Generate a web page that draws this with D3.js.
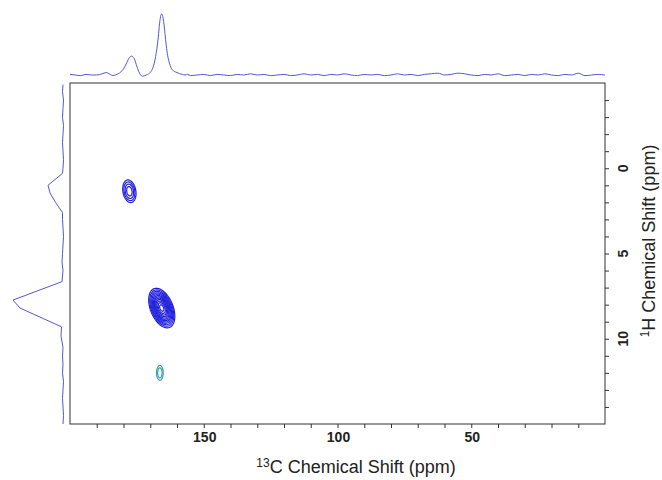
<!DOCTYPE html>
<html>
<head>
<meta charset="utf-8">
<script src="https://cdn.jsdelivr.net/npm/d3@7"></script>
<style>
body { margin: 0; background: #fff; }
text { font-family: Arial, "Liberation Sans", sans-serif; }
</style>
</head>
<body>
<div id="chart"></div>
<script>
// axis ranges and labels
var carbonRange = [200, 0];
var protonRange = [-5, 15];
var carbonLabels = [150, 100, 50];
var protonLabels = [0, 5, 10];

// top projection, 13C (ppm / intensity)
var topPpm = [200,198,196,194,192,190,188,186.5,185,184,183,182,181,180,179,178,177,176,175,174,173,172,171,170,169,168,167,166.5,166,165.7,165.3,165,164.5,164,163.5,163,162.5,162,161,160,159,158,157,156,155,
  152.5,150,147.5,145,142.5,140,137.5,135,132.5,130,127.5,125,122.5,120,117.5,115,112.5,110,107.5,105,102.5,100,97.5,95,92.5,90,87.5,85,82.5,80,77.5,75,72.5,70,67.5,65,62.5,60,57.5,55,52.5,50,47.5,45,42.5,40,37.5,35,32.5,30,27.5,25,22.5,20,17.5,15,12.5,10,7.5,5,2.5,0];
var topInt = [1,0,-1,1,0,0,2,4,1,-1,0,2,5,10,18,27,31,27,14,3,-2,-1,1,4,12,30,62,85,98,100,96,88,68,48,32,22,15,10,6,4,2,1,0,1,-1,
  0,1,-1,1,0,-1,1,0,2,0,1,-1,0,1,-1,0,2,0,1,-1,1,0,2,0,-1,1,0,1,-1,0,2,0,1,-1,1,2,3,0,1,3,2,0,-1,1,0,2,-1,0,1,-1,1,0,2,0,-1,1,0,3,-1,0,1,0];

// side projection, 1H (ppm / intensity)
var sidePpm = [-4.9,-4.5,-4,-3.5,-3,-2.5,-2,-1.5,-1,-0.5,0,0.3,1.0,1.45,2.0,2.6,3.0,3.5,4,4.5,5,5.5,6,6.65,7.73,8.2,9.3,9.85,10.5,11,11.5,12,12.5,13,13.5,14,14.5,15];
var sideInt = [0,1,-1,0,1,-1,0,1,0,-1,0,1,30,26,15,1,1,0,-1,0,1,2,0,2,100,86,3,4,0,1,0,1,-1,0,1,0,-1,0];

// cross peaks
var peakC = [177.8, 165.7, 166.4];
var peakH = [1.35, 8.2, 12.0];
var peakAmp = [0.22, 1, -0.12];
var sigmaC = [1.4, 1.72, 0.94];
var sigmaH = [0.39, 0.5, 0.33];
var peakTilt = [10, 22, 0];
var levels = [0.05, 0.08, 0.12, 0.17, 0.23, 0.3, 0.38, 0.47, 0.57, 0.68, 0.8, 0.92];

var fullWidth = 662, fullHeight = 480;
var margin = {top: 83, right: 57, bottom: 56, left: 70};
var width = fullWidth - margin.left - margin.right;   // 535
var height = fullHeight - margin.top - margin.bottom; // 341

var svg = d3.select("#chart").append("svg")
  .attr("width", fullWidth)
  .attr("height", fullHeight);

var xScale = d3.scaleLinear().domain(carbonRange).range([margin.left, margin.left + width]);
var yScale = d3.scaleLinear().domain(protonRange).range([margin.top, margin.top + height]);
var topY = d3.scaleLinear().domain([0, 100]).range([75, 14]);
var sideX = d3.scaleLinear().domain([0, 100]).range([63, 13]);

// projections
var traceColor = "#5656dc";
var topLine = d3.line()
  .x(function(d, i) { return xScale(topPpm[i]); })
  .y(function(d) { return topY(d); })
  .curve(d3.curveMonotoneX);
svg.append("path").attr("d", topLine(topInt))
  .attr("fill", "none").attr("stroke", traceColor).attr("stroke-width", 1);

var sideLine = d3.line()
  .x(function(d) { return sideX(d); })
  .y(function(d, i) { return yScale(sidePpm[i]); });
svg.append("path").attr("d", sideLine(sideInt))
  .attr("fill", "none").attr("stroke", traceColor).attr("stroke-width", 1);

// contour surface on a pixel grid
var pos = new Float64Array(width * height);
var neg = new Float64Array(width * height);
for (var k = 0; k < peakC.length; k++) {
  var cx = xScale(peakC[k]) - margin.left;
  var cy = yScale(peakH[k]) - margin.top;
  var sx = Math.abs(xScale(peakC[k] + sigmaC[k]) - xScale(peakC[k]));
  var sy = Math.abs(yScale(peakH[k] + sigmaH[k]) - yScale(peakH[k]));
  var th = peakTilt[k] * Math.PI / 180;
  var grid = peakAmp[k] > 0 ? pos : neg;
  var a = Math.abs(peakAmp[k]);
  var x0 = Math.max(0, Math.floor(cx - 6 * sy)), x1 = Math.min(width, Math.ceil(cx + 6 * sy));
  var y0 = Math.max(0, Math.floor(cy - 6 * sy)), y1 = Math.min(height, Math.ceil(cy + 6 * sy));
  for (var j = y0; j < y1; j++) {
    for (var i = x0; i < x1; i++) {
      var dx = i + 0.5 - cx, dy = j + 0.5 - cy;
      var u = dx * Math.cos(th) - dy * Math.sin(th);
      var v = dx * Math.sin(th) + dy * Math.cos(th);
      grid[i + j * width] += a * Math.exp(-(u * u / (2 * sx * sx) + v * v / (2 * sy * sy)));
    }
  }
}

var contours = d3.contours().size([width, height]).thresholds(levels);
var gc = svg.append("g").attr("transform", "translate(" + margin.left + "," + margin.top + ")");
gc.selectAll("path.pos").data(contours(pos)).enter().append("path")
  .attr("class", "pos")
  .attr("d", d3.geoPath())
  .attr("fill", "none").attr("stroke", "#1f1fdc").attr("stroke-width", 1.2);
gc.selectAll("path.neg").data(contours(neg)).enter().append("path")
  .attr("class", "neg")
  .attr("d", d3.geoPath())
  .attr("fill", "none").attr("stroke", "#3a9fa8").attr("stroke-width", 1.2);

// frame
svg.append("rect")
  .attr("x", margin.left).attr("y", margin.top)
  .attr("width", width).attr("height", height)
  .attr("fill", "none").attr("stroke", "#333").attr("stroke-width", 1);

// bottom axis
var xAxis = d3.axisBottom(xScale).tickValues(d3.range(190, 0, -10)).tickSize(4).tickFormat("");
svg.append("g").attr("transform", "translate(0," + (margin.top + height) + ")").call(xAxis)
  .call(function(g) { g.select(".domain").remove(); g.selectAll("line").attr("stroke", "#333"); });
svg.selectAll("text.xl").data(carbonLabels).enter().append("text")
  .attr("class", "xl")
  .attr("x", function(d) { return xScale(d) + 1; })
  .attr("y", 442)
  .attr("text-anchor", "middle")
  .attr("font-size", "14px").attr("font-weight", "bold").attr("fill", "#222")
  .text(function(d) { return d; });

// right axis
var yAxis = d3.axisRight(yScale).tickValues(d3.range(-4, 15, 1)).tickSize(4).tickFormat("");
svg.append("g").attr("transform", "translate(" + (margin.left + width) + ",0)").call(yAxis)
  .call(function(g) { g.select(".domain").remove(); g.selectAll("line").attr("stroke", "#333"); });
svg.selectAll("text.yl").data(protonLabels).enter().append("text")
  .attr("class", "yl")
  .attr("transform", function(d) { return "translate(628," + yScale(d) + ") rotate(-90)"; })
  .attr("text-anchor", "middle")
  .attr("font-size", "14px").attr("font-weight", "bold").attr("fill", "#222")
  .text(function(d) { return d; });

// titles
var xt = svg.append("text")
  .attr("x", 356).attr("y", 473)
  .attr("text-anchor", "middle")
  .attr("font-size", "18px").attr("fill", "#222");
xt.append("tspan").attr("font-size", "12px").attr("dy", -6).text("13");
xt.append("tspan").attr("dy", 6).text("C Chemical Shift (ppm)");

var yt = svg.append("text")
  .attr("transform", "translate(655,241) rotate(-90)")
  .attr("text-anchor", "middle")
  .attr("font-size", "18px").attr("fill", "#222");
yt.append("tspan").attr("font-size", "12px").attr("dy", -6).text("1");
yt.append("tspan").attr("dy", 6).text("H Chemical Shift (ppm)");
</script>
</body>
</html>
